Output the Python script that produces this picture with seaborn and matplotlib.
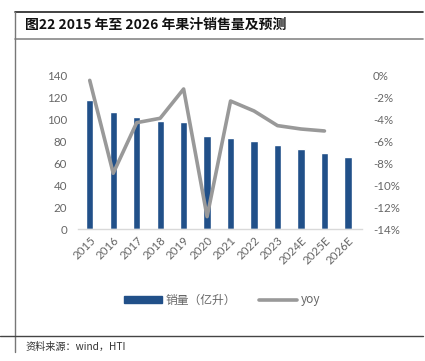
import matplotlib
matplotlib.use("Agg")
import matplotlib.pyplot as plt
import seaborn as sns
import pandas as pd
from matplotlib.lines import Line2D
from matplotlib.patches import Patch

years = ["2015", "2016", "2017", "2018", "2019", "2020", "2021", "2022",
         "2023", "2024E", "2025E", "2026E"]
volume = [118, 107.3, 102.5, 98.8, 97.6, 84.8, 83, 80.5, 76.5, 72.9, 69.2, 65.9]
yoy_years = years[:11]
yoy = [-0.4, -8.9, -4.27, -3.87, -1.19, -12.87, -2.29, -3.2, -4.54, -4.85, -5.03]
left_ticks = [0, 20, 40, 60, 80, 100, 120, 140]
right_ticks = [0, -2, -4, -6, -8, -10, -12, -14]

title = "图22 2015 年至 2026 年果汁销售量及预测"
source = "资料来源：wind，HTI"
bar_label = "销量（亿升）"
line_label = "yoy"

sns.set_theme(style="white")
plt.rcParams['font.family'] = ['Lato', 'Noto Sans CJK SC', 'DejaVu Sans']

BAR = "#215089"
LINE = "#999999"
TXT = "#666666"

fig = plt.figure(figsize=(4.25, 3.61), dpi=100)
ax = fig.add_axes([78/425, 1-229/361, (362-78)/425, (229-76)/361])

df = pd.DataFrame({"year": years, "volume": volume})
sns.barplot(data=df, x="year", y="volume", color=BAR, width=0.31,
            saturation=1, ax=ax)
ax.set_xlim(-0.5, 11.6)
ax.set_ylim(0, 140)
ax.set_yticks(left_ticks)
ax.set_xlabel("")
ax.set_ylabel("")
for s in ["top", "right", "left"]:
    ax.spines[s].set_visible(False)
ax.spines["bottom"].set_color("#D9D9D9")
ax.spines["bottom"].set_linewidth(1)
ax.tick_params(axis="both", length=0, labelsize=8.3, labelcolor=TXT)
ax.tick_params(axis="y", pad=8)
plt.setp(ax.get_xticklabels(), rotation=45, ha="right", rotation_mode="anchor")
ax.tick_params(axis="x", pad=4)

ax2 = ax.twinx()
dfl = pd.DataFrame({"x": list(range(len(yoy_years))), "yoy": yoy})
sns.lineplot(data=dfl, x="x", y="yoy", color=LINE, linewidth=2.6, ax=ax2,
             sort=False)
ax2.set_ylim(-14, 0)
ax2.set_yticks(right_ticks)
ax2.set_yticklabels([f"{t}%" for t in right_ticks])
ax2.set_xlim(-0.5, 11.6)
ax2.set_xlabel("")
ax2.set_ylabel("")
for s in ["top", "right", "left", "bottom"]:
    ax2.spines[s].set_visible(False)
ax2.tick_params(axis="y", length=0, labelsize=8.3, labelcolor=TXT, pad=8)

handles = [Patch(facecolor=BAR, edgecolor=BAR),
           Line2D([0], [0], color=LINE, linewidth=2.6)]
leg = fig.legend(handles, [bar_label, line_label], loc="center",
                 bbox_to_anchor=(222/425, 1-300/361), ncol=2, frameon=False,
                 prop={'family': ['Noto Sans CJK SC', 'DejaVu Sans'], 'size': 8.5},
                 handlelength=3.2, handleheight=0.6,
                 columnspacing=2.0, handletextpad=0.3)
for t in leg.get_texts():
    t.set_color(TXT)

# frame lines
fig.add_artist(Line2D([15/425, 423/425], [1-11.5/361, 1-11.5/361], color="#222222", linewidth=1.2))
fig.add_artist(Line2D([15/425, 423/425], [1-39/361, 1-39/361], color="#888888", linewidth=1.2))
fig.add_artist(Line2D([15/425, 15/425], [1-11.5/361, 1-352/361], color="#777777", linewidth=1))
fig.add_artist(Line2D([0, 423/425], [1-336/361, 1-336/361], color="#444444", linewidth=1))

fig.text(25/425, 1-24.5/361, title, fontsize=10, fontweight="bold",
         color="#111111", va="center", ha="left",
         family=['Noto Sans CJK SC', 'DejaVu Sans'])
fig.text(25/425, 1-347/361, source, fontsize=7.3, color="#333333",
         va="center", ha="left", family=['Noto Sans CJK SC', 'DejaVu Sans'])

fig.savefig("out.png", dpi=100)
